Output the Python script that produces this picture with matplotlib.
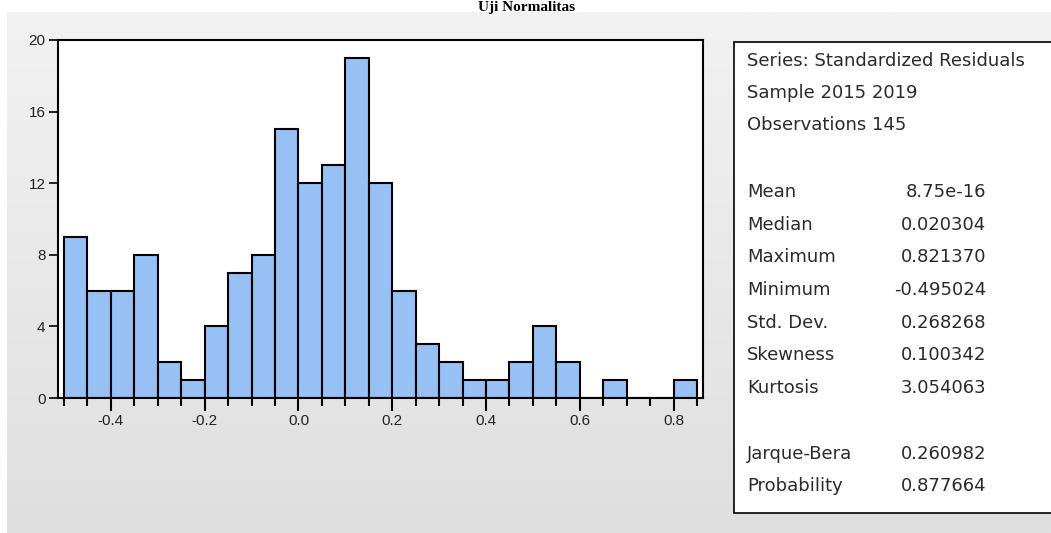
"""
EViews-style normality histogram of standardized residuals with a stats panel.
"""

import numpy as np
import matplotlib.pyplot as plt
from matplotlib.colors import LinearSegmentedColormap
from matplotlib.patches import Rectangle
from matplotlib.ticker import MultipleLocator

plt.rcParams['axes.unicode_minus'] = False

# Histogram bins (width 0.05) and counts
bin_edges = np.round(np.arange(-0.5, 0.85 + 0.001, 0.05), 2)
counts = [9, 6, 6, 8, 2, 1, 4, 7, 8, 15, 12, 13, 19, 12, 6, 3, 2, 1, 1, 2, 4, 2, 0, 1, 0, 0, 1]

x_ticks = [-0.4, -0.2, 0.0, 0.2, 0.4, 0.6, 0.8]
y_ticks = [0, 4, 8, 12, 16, 20]

header_lines = ['Series: Standardized Residuals', 'Sample 2015 2019', 'Observations 145']
stat_names = ['Mean', 'Median', 'Maximum', 'Minimum', 'Std. Dev.', 'Skewness', 'Kurtosis',
              '', 'Jarque-Bera', 'Probability']
stat_values = ['8.75e-16', '0.020304', '0.821370', '-0.495024', '0.268268', '0.100342',
               '3.054063', '', '0.260982', '0.877664']

W, H = 1051, 533
fig = plt.figure(figsize=(W / 100, H / 100), dpi=100)
fig.patch.set_facecolor('white')

# grey window background with a soft vertical gradient
bg = fig.add_axes([7 / W, 0, 1 - 7 / W, 1 - 12 / H], zorder=-10)
grad = np.linspace(0, 1, 256).reshape(-1, 1)
bg.imshow(grad, aspect='auto', cmap=LinearSegmentedColormap.from_list('g', ['#f2f2f2', '#dfdfdf']),
          extent=[0, 1, 0, 1], origin='upper')
bg.axis('off')

fig.text(527 / W, 1 - 11 / H, 'Uji Normalitas', ha='center', va='baseline',
         fontsize=11, fontweight='bold', family='Liberation Serif')

# Histogram
ax = fig.add_axes([58 / W, 1 - 398 / H, 645 / W, 358 / H])
ax.bar(bin_edges[:-1], counts, width=0.05, align='edge', color='#97c0f5',
       edgecolor='black', linewidth=1.5, zorder=2)
ax.set_xlim(-0.5128, 0.8628)
ax.set_ylim(0, 20)
ax.set_xticks(x_ticks)
ax.set_xticklabels([f'{v:.1f}' for v in x_ticks])
ax.xaxis.set_minor_locator(MultipleLocator(0.05))
ax.set_yticks(y_ticks)
for s in ax.spines.values():
    s.set_linewidth(1.5)
ax.tick_params(axis='x', which='major', direction='out', length=9.4, width=1.5, pad=2,
               labelsize=11)
ax.tick_params(axis='x', which='minor', direction='out', length=5.8, width=1.5)
ax.tick_params(axis='y', direction='out', length=6.5, width=1.2, pad=2.5, labelsize=11)
for lbl in ax.get_xticklabels() + ax.get_yticklabels():
    lbl.set_family('Liberation Sans')
    lbl.set_color('#222222')

# Stats panel
fig.patches.append(Rectangle((734 / W, 1 - 513 / H), 330 / W, 471 / H,
                             transform=fig.transFigure, facecolor='white',
                             edgecolor='black', linewidth=1.2))
txt = dict(va='center', fontsize=13, family='DejaVu Sans', color='#2a2a2a')
y = 61
for line in header_lines:
    fig.text(747 / W, 1 - y / H, line, **txt)
    y += 32
y = 192
for name, val in zip(stat_names, stat_values):
    fig.text(747 / W, 1 - y / H, name, **txt)
    fig.text(986 / W, 1 - y / H, val, ha='right', **txt)
    y += 32.7

plt.savefig('out.png', dpi=100)
plt.close()
